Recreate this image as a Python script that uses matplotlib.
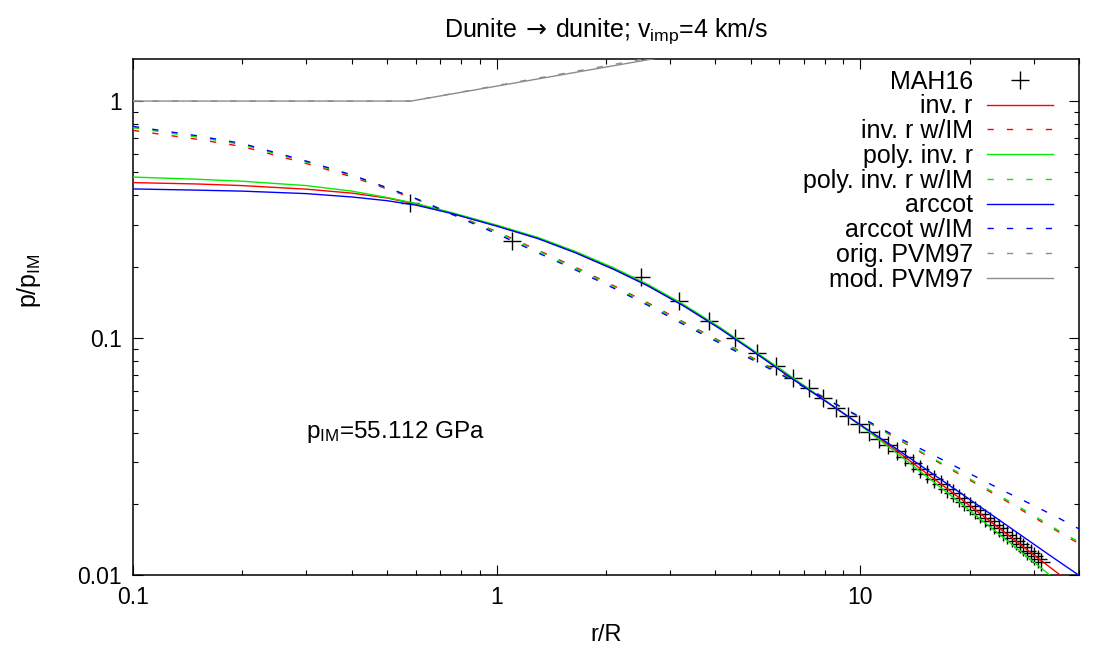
import matplotlib
matplotlib.use('Agg')
import matplotlib.pyplot as plt
from matplotlib.ticker import LogLocator, FuncFormatter, NullFormatter

plt.rcParams['font.family'] = ['Liberation Sans', 'DejaVu Sans']
plt.rcParams['mathtext.fontset'] = 'dejavusans'

# MAH16 reference points
mah_r = [0.578, 1.10, 2.50, 3.17, 3.85, 4.52, 5.20, 5.87, 6.55, 7.22, 7.90, 8.57,
         9.24, 9.92, 10.59, 11.27, 11.94, 12.62, 13.29, 13.97, 14.64, 15.31, 15.99,
         16.66, 17.34, 18.01, 18.69, 19.36, 20.03, 20.71, 21.38, 22.06, 22.73, 23.41,
         24.08, 24.76, 25.43, 26.10, 26.78, 27.45, 28.13, 28.80, 29.48, 30.15, 30.83,
         31.50]
mah_p = [0.372, 0.257, 0.1813, 0.1434, 0.1182, 0.1003, 0.0868, 0.0764, 0.0682, 0.0614,
         0.0557, 0.0510, 0.0470, 0.0435, 0.0404, 0.0377, 0.0354, 0.0333, 0.0314, 0.0297,
         0.0281, 0.0267, 0.0254, 0.0242, 0.0232, 0.0222, 0.0212, 0.0204, 0.0196, 0.0188,
         0.0181, 0.0175, 0.0169, 0.0163, 0.0158, 0.0153, 0.0148, 0.0143, 0.0139, 0.0135,
         0.0131, 0.0127, 0.0124, 0.0121, 0.0117, 0.0114]

# fitted curves, sampled at r_fit
r_fit = [0.1, 0.15, 0.2, 0.3, 0.4, 0.5, 0.6, 0.75, 1.0, 1.3, 1.65, 2.1, 2.6, 3.25,
         4.1, 5.0, 6.5, 8.0, 10.0, 12.5, 15.6, 19.4, 24.4, 30.0, 35.0, 40.0]
inv_r = [0.453, 0.447, 0.440, 0.425, 0.409, 0.390, 0.368, 0.337, 0.298, 0.264, 0.230,
         0.196, 0.1675, 0.1385, 0.1108, 0.0897, 0.0677, 0.0545, 0.0430, 0.0338, 0.0262,
         0.0204, 0.0156, 0.0122, 0.0102, 0.0087]
inv_r_im = [0.752, 0.690, 0.643, 0.545, 0.479, 0.426, 0.386, 0.336, 0.282, 0.235, 0.199,
            0.1665, 0.1413, 0.1175, 0.0976, 0.0835, 0.0673, 0.0560, 0.0462, 0.0380,
            0.0313, 0.0259, 0.0212, 0.0176, 0.0153, 0.0136]
poly_r = [0.478, 0.468, 0.459, 0.440, 0.417, 0.392, 0.370, 0.339, 0.300, 0.266, 0.232,
          0.198, 0.169, 0.1395, 0.1115, 0.0905, 0.0685, 0.0548, 0.0430, 0.0331, 0.0254,
          0.0195, 0.0147, 0.0114, 0.0094, 0.0080]
poly_r_im = [0.772, 0.705, 0.655, 0.553, 0.485, 0.430, 0.388, 0.336, 0.280, 0.233, 0.197,
             0.165, 0.140, 0.1165, 0.0968, 0.0828, 0.0668, 0.0558, 0.0463, 0.0382,
             0.0316, 0.0262, 0.0215, 0.0179, 0.0155, 0.0138]
arccot = [0.426, 0.421, 0.417, 0.407, 0.394, 0.380, 0.364, 0.336, 0.297, 0.263, 0.229,
          0.195, 0.1665, 0.1375, 0.1100, 0.0895, 0.0675, 0.0545, 0.0432, 0.0344, 0.0272,
          0.0216, 0.0169, 0.01355, 0.0115, 0.0100]
arccot_im = [0.782, 0.714, 0.662, 0.558, 0.488, 0.431, 0.388, 0.334, 0.276, 0.229, 0.194,
             0.1625, 0.138, 0.1148, 0.0955, 0.0818, 0.0663, 0.0557, 0.0466, 0.0386,
             0.0326, 0.0275, 0.0230, 0.0197, 0.0175, 0.0157]

# PVM97 scaling
pvm_r = [0.1, 0.582, 40.0]
pvm_orig = [1.0, 1.0, 3.23]
pvm_mod = [1.0, 1.0, 3.10]

fs_tick = 16.5
fs_text = 18
dash = (0, (4.5, 9.5))
red, green, blue, grey = '#ff0000', '#00ee00', '#0000ff', '#8c8c8c'

fig = plt.figure(figsize=(10.99, 6.46), dpi=100)
fig.subplots_adjust(left=133/1099, right=1079/1099, top=1-59.3/646, bottom=1-575.3/646)
ax = fig.add_subplot(111)

ax.plot(mah_r, mah_p, linestyle='none', marker='+', markersize=13, markeredgewidth=1.0,
        color='black', label='MAH16', zorder=2)
ax.plot(r_fit, inv_r, color=red, lw=1.0, label='inv. r', zorder=3)
ax.plot(r_fit, inv_r_im, color=red, lw=1.0, ls=dash, label='inv. r w/IM', zorder=3)
ax.plot(r_fit, poly_r, color=green, lw=1.0, label='poly. inv. r', zorder=3)
ax.plot(r_fit, poly_r_im, color=green, lw=1.0, ls=dash, label='poly. inv. r w/IM', zorder=3)
ax.plot(r_fit, arccot, color=blue, lw=1.0, label='arccot', zorder=3)
ax.plot(r_fit, arccot_im, color=blue, lw=1.0, ls=dash, label='arccot w/IM', zorder=3)
ax.plot(pvm_r, pvm_orig, color=grey, lw=1.0, ls=dash, label='orig. PVM97', zorder=3)
ax.plot(pvm_r, pvm_mod, color=grey, lw=1.0, label='mod. PVM97', zorder=3)

ax.set_xscale('log')
ax.set_yscale('log')
ax.set_xlim(0.1, 40)
ax.set_ylim(0.01, 1.5)

fmt = FuncFormatter(lambda v, pos: f'{v:g}')
for axis in (ax.xaxis, ax.yaxis):
    axis.set_major_locator(LogLocator(base=10))
    axis.set_minor_locator(LogLocator(base=10, subs=range(2, 10)))
    axis.set_major_formatter(fmt)
    axis.set_minor_formatter(NullFormatter())

ax.tick_params(which='both', direction='in', top=True, right=True, labelsize=fs_tick, width=0.8)
ax.tick_params(which='major', length=7.2, pad=8)
ax.tick_params(which='minor', length=3.6)
for sp in ax.spines.values():
    sp.set_linewidth(1.1)

ax.set_xlabel('r/R', fontsize=17)
ax.xaxis.set_label_coords(0.5, -0.095)
ax.set_ylabel(r'$\mathregular{p/p_{IM}}$', fontsize=fs_text)
ax.yaxis.set_label_coords(-0.095, 0.572)
ax.set_title(r'Dunite$\,\rightarrow\,$dunite; $\mathregular{v_{imp}}$=4 km/s', fontsize=fs_text, pad=16)

ax.text(0.3, 0.038, r'$\mathregular{p_{IM}}$=55.112 GPa', fontsize=17.5, ha='left', va='baseline')

leg = ax.legend(loc='upper right', bbox_to_anchor=(0.972, 0.98), markerfirst=False,
                frameon=False, fontsize=fs_text, handlelength=2.63, handletextpad=0.56,
                labelspacing=0.03, borderaxespad=0, borderpad=0)

fig.savefig('out.png', dpi=100)
